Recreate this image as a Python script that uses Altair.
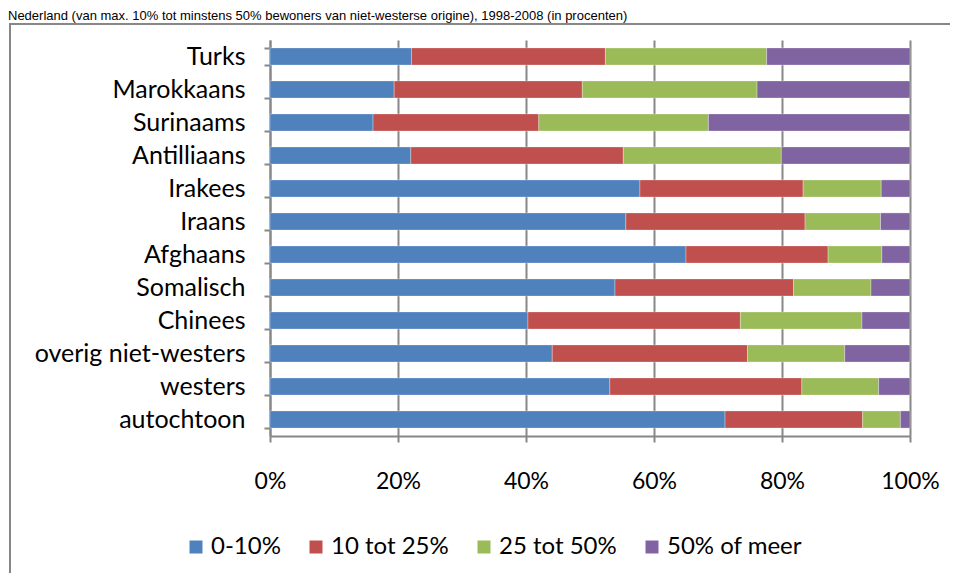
import altair as alt
import pandas as pd

categories = ["Turks", "Marokkaans", "Surinaams", "Antilliaans", "Irakees", "Iraans",
              "Afghaans", "Somalisch", "Chinees", "overig niet-westers", "westers", "autochtoon"]
series = ["0-10%", "10 tot 25%", "25 tot 50%", "50% of meer"]
v_0_10 = [22.1, 19.4, 16.1, 22.0, 57.8, 55.6, 65.0, 53.9, 40.3, 44.1, 53.1, 71.1]
v_10_25 = [30.3, 29.4, 25.9, 33.2, 25.5, 28.0, 22.2, 27.9, 33.2, 30.5, 30.0, 21.5]
v_25_50 = [25.2, 27.3, 26.5, 24.7, 12.2, 11.8, 8.4, 12.1, 19.0, 15.2, 12.0, 5.9]
v_50_plus = [22.4, 23.9, 31.5, 20.1, 4.5, 4.6, 4.4, 6.1, 7.5, 10.2, 4.9, 1.5]
colors = ["#4F81BD", "#C0504D", "#9BBB59", "#8064A2"]
title_text = ("Nederland (van max. 10% tot minstens 50% bewoners van niet-westerse origine), "
              "1998-2008 (in procenten)")

rows = []
for s_i, (name, vals) in enumerate(zip(series, [v_0_10, v_10_25, v_25_50, v_50_plus])):
    for c, v in zip(categories, vals):
        rows.append({"groep": c, "klasse": name, "waarde": v, "volgorde": s_i})
df = pd.DataFrame(rows)

FONT = "Lato"
GRAY = "#878787"

bars = alt.Chart(df).mark_bar(stroke="white", strokeWidth=0.5, strokeOpacity=0.6).encode(
    y=alt.Y("groep:N", sort=categories, title=None,
            scale=alt.Scale(paddingInner=0.48, paddingOuter=0.24),
            axis=alt.Axis(labelFont=FONT, labelFontSize=25, labelColor="black",
                          labelPadding=19, labelLimit=400, tickBand="extent", tickSize=6,
                          tickColor=GRAY, tickWidth=2, domainColor=GRAY,
                          domainWidth=2, grid=False)),
    x=alt.X("waarde:Q", stack="normalize", title=None,
            scale=alt.Scale(domain=[0, 1], nice=False),
            axis=alt.Axis(format=".0%", values=[0, 0.2, 0.4, 0.6, 0.8, 1.0],
                          labelFont=FONT, labelFontSize=23, labelColor="black",
                          labelFlush=False, labelPadding=28, tickSize=6,
                          tickColor=GRAY, tickWidth=2,
                          domainColor=GRAY, domainWidth=2,
                          grid=True, gridColor=GRAY, gridWidth=2)),
    color=alt.Color("klasse:N", sort=series,
                    scale=alt.Scale(domain=series, range=colors),
                    legend=alt.Legend(title=None, orient="none", direction="horizontal",
                                      legendX=-86, legendY=495,
                                      symbolType="square", symbolSize=169,
                                      symbolStrokeWidth=0, symbolOffset=0,
                                      labelFont=FONT, labelFontSize=24,
                                      labelColor="black", labelOffset=3,
                                      labelLimit=400, columnPadding=23)),
    order=alt.Order("volgorde:Q"),
)

one = alt.Data(values=[{"a": 1}])

frame_top = alt.Chart(one).mark_rule(stroke=GRAY, strokeWidth=2).encode(
    x=alt.value(-261), x2=alt.value(900), y=alt.value(-16)
)
frame_left = alt.Chart(one).mark_rule(stroke=GRAY, strokeWidth=2).encode(
    x=alt.value(-260), y=alt.value(-17), y2=alt.value(800)
)

title = alt.Chart(one).mark_text(
    font="Liberation Sans", fontSize=13, align="left", baseline="alphabetic", color="black"
).encode(x=alt.value(-262), y=alt.value(-20), text=alt.value(title_text))

chart = alt.layer(frame_top, frame_left, bars, title).properties(
    width=640, height=396,
    autosize=alt.AutoSizeParams(type="none"),
    padding={"left": 262, "top": 32, "right": 40, "bottom": 137},
).configure_view(stroke=None)

chart.save("out.html", embed_options={"renderer": "svg", "actions": False})
